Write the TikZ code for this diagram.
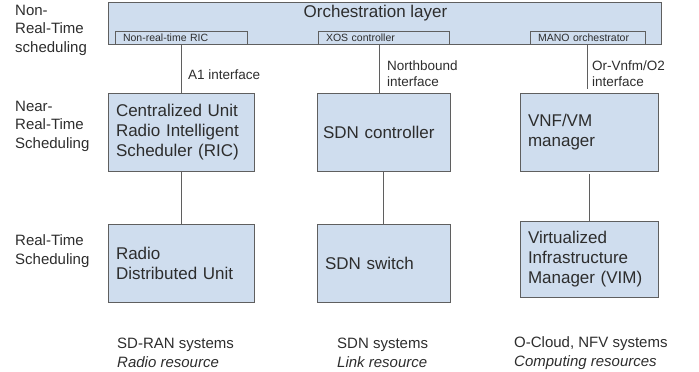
\documentclass[tikz,border=0pt]{standalone}
\usepackage{fontspec}
\setmainfont{Liberation Sans}
\definecolor{boxfill}{RGB}{207,221,238}
\definecolor{boxline}{RGB}{95,95,95}
\definecolor{txt}{RGB}{45,45,45}
\begin{document}
\begin{tikzpicture}[x=1pt,y=-1pt, every node/.style={text=txt},
  box/.style={draw=boxline, fill=boxfill, line width=0.9pt, rectangle, inner xsep=8pt, inner ysep=0pt, align=left, font=\fontsize{17}{20}\selectfont},
  subbox/.style={draw=boxline, fill=boxfill, line width=0.9pt, rectangle, inner xsep=8pt, inner ysep=0pt, align=left, minimum height=13pt, font=\fontsize{10.5}{12}\selectfont},
  side/.style={anchor=west, inner sep=0pt, align=left, font=\fontsize{15}{18.5}\selectfont},
  iface/.style={anchor=west, inner sep=0pt, align=left, font=\fontsize{13.5}{16}\selectfont},
  bottom/.style={anchor=west, inner sep=0pt, align=left, font=\fontsize{15}{19.5}\selectfont},
  conn/.style={draw=boxline, line width=0.9pt}]
\useasboundingbox (0,0) rectangle (699,372);
% orchestration layer
\node[draw=boxline, fill=boxfill, line width=0.9pt, minimum width=553pt, minimum height=42pt, inner sep=0pt] (orch) at (384.5,23) {};
\node[inner sep=0pt, font=\fontsize{17}{20}\selectfont] (orchtitle) at (375.5,13) {Orchestration layer};
\node[subbox, minimum width=132pt, text width=116pt] (nrric) at (181,37.5) {Non-real-time RIC};
\node[subbox, minimum width=131pt, text width=115pt] (xos) at (383.5,37.5) {XOS controller};
\node[subbox, minimum width=115pt, text width=99pt] (mano) at (587.5,37.5) {MANO orchestrator};
% row 1
\node[box, minimum width=146pt, minimum height=78pt, text width=130pt] (cu) at (181,132) {Centralized Unit\\Radio Intelligent\\Scheduler (RIC)};
\node[box, minimum width=133pt, minimum height=78pt, text width=121pt, inner xsep=6pt] (sdnc) at (383.5,132) {SDN controller};
\node[box, minimum width=138pt, minimum height=78pt, text width=122pt] (vnf) at (589,132) {VNF/VM\\manager};
% row 2
\node[box, minimum width=146pt, minimum height=78pt, text width=130pt] (rdu) at (181,263) {Radio\\Distributed Unit};
\node[box, minimum width=133pt, minimum height=78pt, text width=117pt] (sdns) at (383.5,263) {SDN switch};
\node[box, minimum width=138pt, minimum height=76pt, text width=122pt] (vim) at (589,259) {Virtualized\\Infrastructure\\Manager (VIM)};
% connectors
\draw[conn] (nrric.south) -- (cu.north);
\draw[conn] ([xshift=-4.5pt]xos.south) -- ([xshift=-4.5pt]sdnc.north);
\draw[conn] (mano.south) -- ([xshift=-1.5pt,yshift=4pt]vnf.north);
\draw[conn] (cu.south) -- (rdu.north);
\draw[conn] (sdnc.south) -- (sdns.north);
\draw[conn] ([yshift=-3pt]vnf.south) -- (vim.north);
% interface labels
\node[iface] (a1) at (188,75) {A1 interface};
\node[iface] (nb) at (387,74) {Northbound\\interface};
\node[iface] (or) at (592,74) {Or-Vnfm/O2\\interface};
% side labels
\node[side] (nrt) at (15,30) {Non-\\Real-Time\\scheduling};
\node[side] (nearrt) at (15,126) {Near-\\Real-Time\\Scheduling};
\node[side] (rt) at (15,251) {Real-Time\\Scheduling};
% bottom labels
\node[bottom] (sdran) at (117,353) {SD-RAN systems\\\textit{Radio resource}};
\node[bottom] (sdnsys) at (337,353) {SDN systems\\\textit{Link resource}};
\node[bottom] (ocloud) at (514,353) {O-Cloud, NFV systems\\\textit{Computing resources}};
\end{tikzpicture}
\end{document}
